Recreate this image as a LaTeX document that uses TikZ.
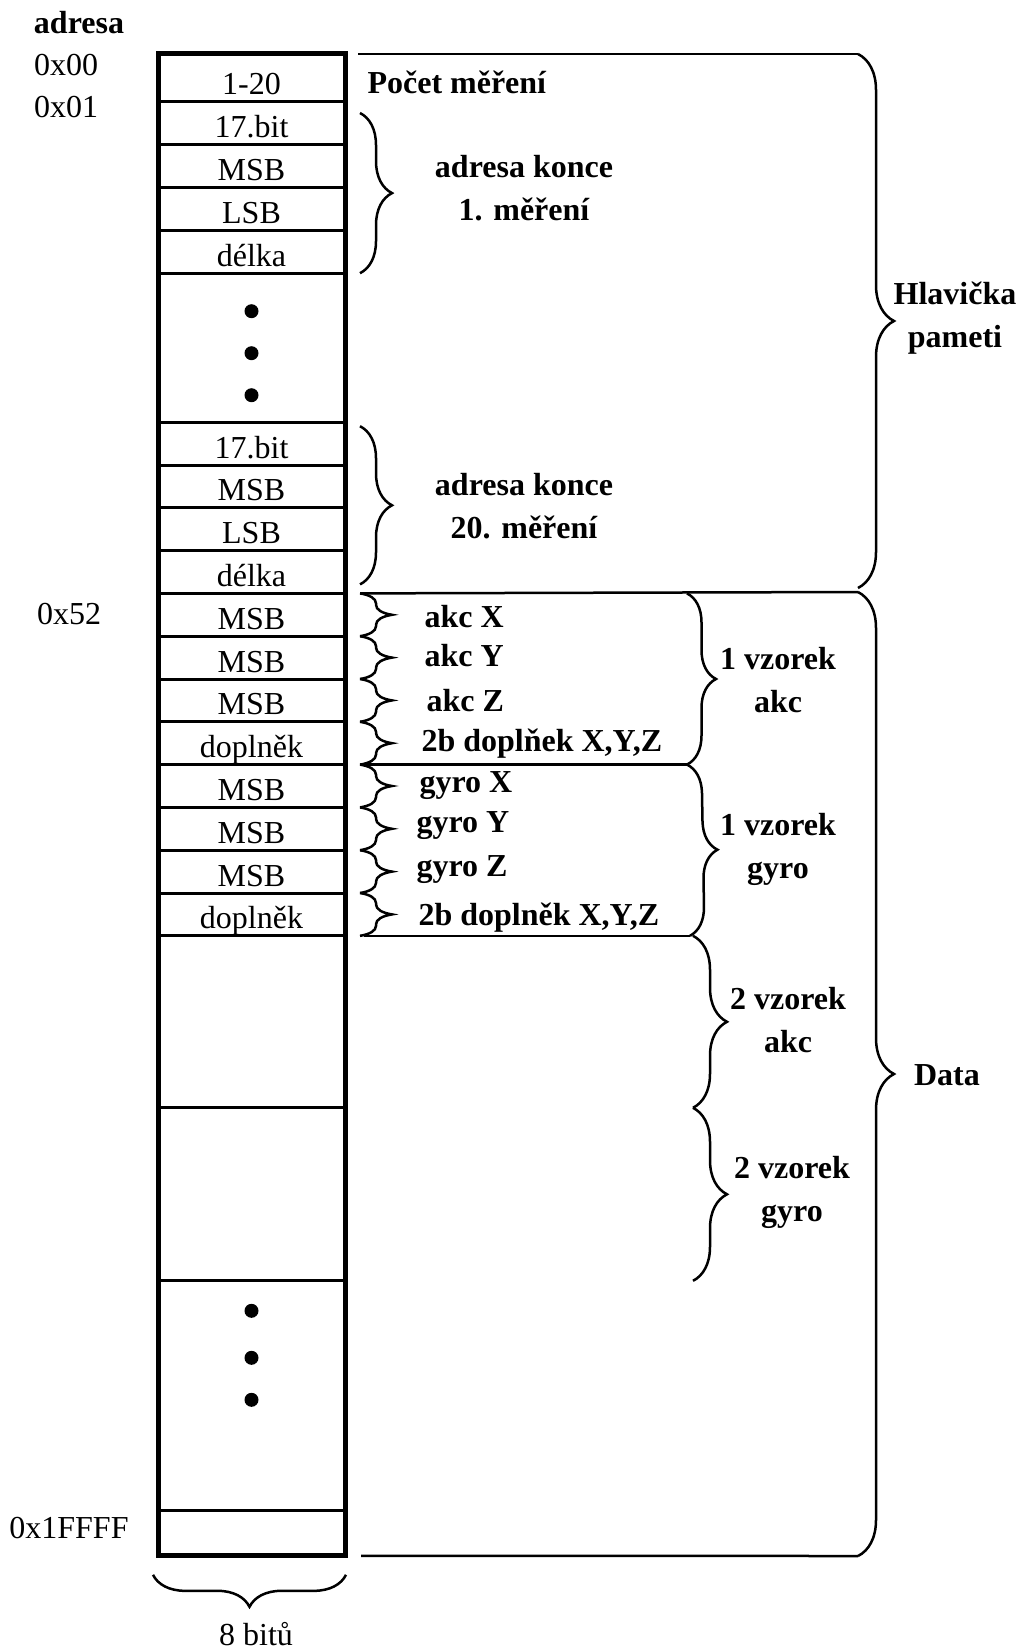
\documentclass[tikz,border=0pt]{standalone}
\usepackage{fontspec}
\setmainfont{Liberation Serif}
\usepackage{tikz}
\usetikzlibrary{positioning,decorations.pathreplacing}

\tikzset{
  cell/.style={draw, line width=3pt, minimum width=187pt, minimum height=42.8pt,
    inner sep=0pt, outer sep=0pt, text height=31pt, text depth=2pt},
  dot/.style={circle, fill, inner sep=0pt, minimum size=14pt},
  ln/.style={line width=2.5pt},
  curly/.style={decorate, ln, decoration={brace, amplitude=#1}},
  curly/.default=32,
  rowcurly/.style={decorate, ln, decoration={brace, amplitude=10pt, transform={yscale=3.2}}},
  lbl/.style={font=\fontsize{32}{43}\selectfont\bfseries},
}

\begin{document}
\begin{tikzpicture}[x=1pt, y=-1pt, every node/.style={font=\fontsize{32}{43}\selectfont}]
    \useasboundingbox (0,0) rectangle (1021,1651);
    % adresy
    \node[lbl] (adr) at (79,23) {adresa};
    \node (a00) at (66,65) {0x00};
    \node (a01) at (66,107) {0x01};
    \node (a52) at (69,614) {0x52};
    \node (aend) at (69,1528) {0x1FFFF};

    % hlavicka
    \node[cell, minimum height=48pt, text height=35pt] (r0) at (251.5,78) {1-20};
    \node[cell, below=0pt of r0] (r1) {17.bit};
    \node[cell, below=0pt of r1] (r2) {MSB};
    \node[cell, below=0pt of r2] (r3) {LSB};
    \node[cell, below=0pt of r3] (r4) {délka};
    \node[cell, below=0pt of r4, minimum height=149pt] (gap1) {};
    \node[cell, below=0pt of gap1] (r5) {17.bit};
    \node[cell, below=0pt of r5] (r6) {MSB};
    \node[cell, below=0pt of r6] (r7) {LSB};
    \node[cell, below=0pt of r7] (r8) {délka};
    % data
    \node[cell, below=0pt of r8] (r9) {MSB};
    \node[cell, below=0pt of r9] (r10) {MSB};
    \node[cell, below=0pt of r10] (r11) {MSB};
    \node[cell, below=0pt of r11] (r12) {doplněk};
    \node[cell, below=0pt of r12] (r13) {MSB};
    \node[cell, below=0pt of r13] (r14) {MSB};
    \node[cell, below=0pt of r14] (r15) {MSB};
    \node[cell, below=0pt of r15] (r16) {doplněk};
    \node[cell, below=0pt of r16, minimum height=172pt] (gap2) {};
    \node[cell, below=0pt of gap2, minimum height=173pt] (gap3) {};
    \node[cell, below=0pt of gap3, minimum height=230pt] (gap4) {};
    \node[cell, below=0pt of gap4, minimum height=45pt] (r17) {};
    \draw[line width=5pt] (r0.north west) rectangle (r17.south east);

    \node[dot] (dA1) at ([yshift=-38pt]gap1.north) {};
    \node[dot] (dA2) at ([yshift=-80pt]gap1.north) {};
    \node[dot] (dA3) at ([yshift=-122pt]gap1.north) {};
    \node[dot] (dB1) at ([yshift=-30pt]gap4.north) {};
    \node[dot] (dB2) at ([yshift=-77pt]gap4.north) {};
    \node[dot] (dB3) at ([yshift=-119pt]gap4.north) {};

    % 8 bitu
    \draw[curly=32, decoration={mirror}] ([xshift=-5pt,yshift=-19pt]r17.south west) -- ([xshift=1pt,yshift=-19pt]r17.south east);
    \node (bits) at (256,1634) {8 bitů};

    % prave popisky
    \coordinate (hT) at (858,54);
    \coordinate (hB) at (858,588);
    \coordinate (dT) at (858,592);
    \coordinate (dB) at (858,1556);
    \draw[ln] ([xshift=13pt]r0.north east) -- (hT);
    \draw[ln] ([xshift=15pt]r9.north east) -- (dT);
    \draw[ln] ([xshift=16pt]r17.south east) -- (dB);
    \draw[curly=36] (hT) -- (hB);
    \draw[curly=36] (dT) -- (dB);
    \node[lbl, align=center] (hlav) at (955,318) {Hlavička\\pameti};
    \node[lbl] (data) at (947,1075) {Data};

    \node[lbl, anchor=west] (pocet) at (364,82) {Počet měření};
    \draw[curly=32] ([xshift=15pt,yshift=-11pt]r1.north east) -- ([xshift=15pt]r4.south east);
    \node[lbl, align=center] (kon1) at (524,188) {adresa konce\\1. měření};
    \draw[curly=32] ([xshift=15pt,yshift=-4pt]r5.north east) -- ([xshift=15pt,yshift=9pt]r8.south east);
    \node[lbl, align=center] (kon20) at (524,506) {adresa konce\\20. měření};

    % vzorky
    \draw[rowcurly] ([xshift=15pt]r9.north east) -- ([xshift=15pt]r9.south east);
    \draw[rowcurly] ([xshift=15pt]r10.north east) -- ([xshift=15pt]r10.south east);
    \draw[rowcurly] ([xshift=15pt]r11.north east) -- ([xshift=15pt]r11.south east);
    \draw[rowcurly] ([xshift=15pt]r12.north east) -- ([xshift=15pt]r12.south east);
    \draw[rowcurly] ([xshift=15pt]r13.north east) -- ([xshift=15pt]r13.south east);
    \draw[rowcurly] ([xshift=15pt]r14.north east) -- ([xshift=15pt]r14.south east);
    \draw[rowcurly] ([xshift=15pt]r15.north east) -- ([xshift=15pt]r15.south east);
    \draw[rowcurly] ([xshift=15pt]r16.north east) -- ([xshift=15pt]r16.south east);
    \node[lbl, anchor=west] (akx) at (421,617) {akc X};
    \node[lbl, anchor=west] (aky) at (421,656) {akc Y};
    \node[lbl, anchor=west] (akz) at (423,701) {akc Z};
    \node[lbl, anchor=west] (akd) at (418,744) {2b doplňek X,Y,Z};
    \node[lbl, anchor=west] (gyx) at (416,786) {gyro X};
    \node[lbl, anchor=west] (gyy) at (413,826) {gyro Y};
    \node[lbl, anchor=west] (gyz) at (413,870) {gyro Z};
    \node[lbl, anchor=west] (gyd) at (415,918) {2b doplněk X,Y,Z};

    \draw[ln] ([xshift=16pt]r12.south east) -- ([xshift=342pt]r12.south east);
    \draw[ln] ([xshift=19pt]r16.south east) -- ([xshift=345pt]r16.south east);
    \draw[curly=29] ([xshift=342pt]r9.north east) -- ([xshift=342pt]r12.south east);
    \draw[curly=29] ([xshift=342pt]r13.north east) -- ([xshift=345pt]r16.south east);
    \draw[curly=34] ([xshift=348pt]gap2.north east) -- ([xshift=348pt]gap2.south east);
    \draw[curly=34] ([xshift=348pt]gap3.north east) -- ([xshift=348pt]gap3.south east);
    \node[lbl, align=center] (v1a) at (778,680) {1 vzorek\\akc};
    \node[lbl, align=center] (v1g) at (778,849) {1 vzorek\\gyro};
    \node[lbl, align=center] (v2a) at (788,1020) {2 vzorek\\akc};
    \node[lbl, align=center] (v2g) at (792,1192) {2 vzorek\\gyro};
\end{tikzpicture}
\end{document}
